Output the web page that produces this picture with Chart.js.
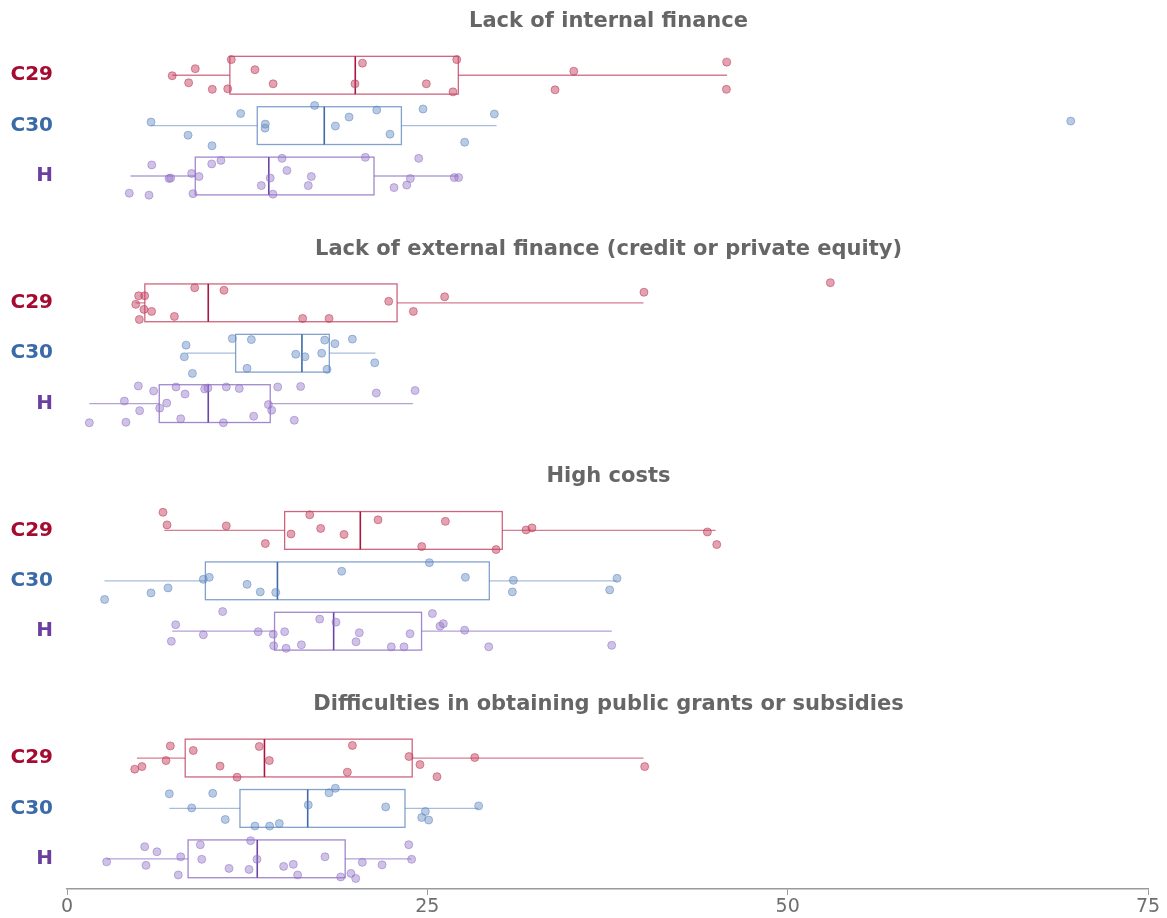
<!DOCTYPE html>
<html lang="en">
  <head>
    <meta charset="UTF-8" />
    <title>Barriers - box plots</title>
    <script src="https://cdn.jsdelivr.net/npm/chart.js"></script>
    <style>
      html, body { margin: 0; padding: 0; background: #fff; }
      .wrap { position: relative; width: 1167px; height: 918px; }
    </style>
  </head>
  <body>
    <div class="wrap"><canvas id="chart"></canvas></div>

    <script>
      // panels (top to bottom) and groups (rows inside each panel)
      const panels = [
        "Lack of internal finance",
        "Lack of external finance (credit or private equity)",
        "High costs",
        "Difficulties in obtaining public grants or subsidies",
      ];
      const groups = ["C29", "C30", "H"];
      const xTicks = [0, 25, 50, 75];

      // box stats per panel, per group [C29, C30, H]
      const q1 = [[11.3, 13.2, 8.9], [5.4, 11.7, 6.4], [15.1, 9.6, 14.4], [8.2, 12.0, 8.4]];
      const median = [[20.0, 17.85, 14.0], [9.8, 16.3, 9.8], [20.35, 14.6, 18.5], [13.7, 16.7, 13.2]];
      const q3 = [[27.15, 23.2, 21.3], [22.9, 18.2, 14.1], [30.2, 29.3, 24.6], [23.95, 23.45, 19.3]];
      const whiskerLo = [[7.3, 5.8, 4.4], [4.75, 8.3, 1.55], [6.75, 2.6, 7.3], [4.85, 7.1, 2.75]];
      const whiskerHi = [[45.8, 29.8, 27.15], [40.0, 21.4, 24.0], [45.0, 38.15, 37.8], [40.0, 28.55, 23.9]];

      // individual observations and their vertical jitter (fraction of a row)
      const internalValues = [
        [11.4, 8.9, 7.3, 8.44, 10.08, 11.15, 13.04, 14.3, 20.5, 19.98, 27.04, 24.93, 26.78, 35.16, 33.86, 45.77, 45.75],
        [5.83, 8.4, 10.06, 12.05, 13.76, 13.74, 17.18, 18.62, 19.57, 21.49, 22.41, 24.7, 29.65, 27.59, 69.64],
        [5.88, 7.08, 7.19, 4.32, 5.69, 8.65, 9.16, 8.74, 10.04, 10.68, 13.48, 14.1, 14.29, 14.92, 15.26, 16.95, 16.74, 20.7, 22.69, 23.57, 24.4, 23.82, 26.87, 27.17],
      ];
      const internalJitter = [
        [-0.31, -0.13, 0.01, 0.15, 0.28, 0.27, -0.11, 0.17, -0.24, 0.17, -0.31, 0.17, 0.33, -0.08, 0.29, -0.26, 0.28],
        [-0.07, 0.19, 0.4, -0.24, -0.03, 0.05, -0.4, 0.01, -0.17, -0.31, 0.17, -0.33, -0.23, 0.33, -0.09],
        [-0.22, 0.05, 0.04, 0.34, 0.38, -0.05, 0.01, 0.35, -0.24, -0.31, 0.19, 0.04, 0.36, -0.35, -0.11, 0.01, 0.19, -0.37, 0.23, 0.18, -0.35, 0.05, 0.03, 0.03],
      ];
      const externalValues = [
        [8.86, 10.89, 4.97, 5.39, 4.77, 5.34, 5.87, 5.02, 7.45, 16.35, 18.18, 22.32, 24.03, 26.2, 40.03, 52.96],
        [8.26, 8.14, 8.7, 11.47, 12.79, 12.49, 15.87, 16.51, 17.67, 17.88, 18.59, 18.04, 19.8, 21.35],
        [1.55, 4.09, 3.98, 4.95, 5.04, 6.01, 6.43, 6.92, 7.56, 8.19, 7.89, 9.55, 9.78, 10.85, 11.05, 11.95, 12.95, 13.97, 14.2, 14.62, 15.77, 16.21, 21.46, 24.15],
      ];
      const externalJitter = [
        [-0.3, -0.25, -0.14, -0.14, 0.03, 0.13, 0.17, 0.33, 0.27, 0.31, 0.31, -0.03, 0.17, -0.12, -0.21, -0.4],
        [-0.16, 0.07, 0.4, -0.29, -0.27, 0.3, 0.02, 0.07, 0, -0.26, -0.19, 0.32, -0.28, 0.19],
        [0.38, 0.37, -0.05, -0.35, 0.14, -0.25, 0.09, -0.01, -0.33, -0.19, 0.3, -0.29, -0.31, 0.38, -0.33, -0.3, 0.25, 0.02, 0.13, -0.33, 0.33, -0.34, -0.21, -0.26],
      ];
      const costsValues = [
        [6.66, 6.94, 11.05, 13.76, 15.54, 16.84, 17.6, 19.22, 21.58, 26.25, 24.61, 29.77, 31.85, 32.26, 44.43, 45.08],
        [2.61, 5.83, 7.01, 9.46, 9.87, 12.49, 13.41, 14.48, 19.06, 25.14, 27.64, 30.97, 30.9, 38.16, 37.65],
        [7.54, 7.24, 9.46, 10.8, 13.27, 14.31, 14.34, 15.1, 15.2, 16.26, 17.53, 18.66, 20.28, 20.05, 22.5, 23.38, 23.8, 25.35, 25.88, 26.11, 27.59, 29.26, 37.79],
      ];
      const costsJitter = [
        [-0.36, -0.11, -0.09, 0.26, 0.07, -0.31, -0.04, 0.08, -0.21, -0.18, 0.32, 0.38, -0.01, -0.05, 0.03, 0.28],
        [0.37, 0.24, 0.14, -0.03, -0.07, 0.07, 0.22, 0.23, -0.19, -0.36, -0.07, -0.01, 0.22, -0.05, 0.18],
        [-0.13, 0.2, 0.07, -0.39, 0.01, 0.06, 0.29, 0.01, 0.34, 0.27, -0.24, -0.18, 0.03, 0.21, 0.31, 0.31, 0.05, -0.35, -0.1, -0.15, -0.02, 0.31, 0.28],
      ];
      const grantsValues = [
        [4.7, 5.2, 6.87, 7.17, 8.76, 10.62, 11.8, 13.34, 14.04, 19.8, 19.45, 23.73, 24.49, 25.67, 28.29, 40.08],
        [7.1, 8.65, 10.11, 10.98, 13.04, 14.06, 14.73, 16.74, 18.18, 18.62, 22.11, 24.86, 24.61, 25.09, 28.56],
        [2.75, 5.39, 6.24, 5.48, 7.89, 7.72, 9.25, 9.35, 11.24, 12.63, 12.74, 13.18, 15.03, 15.7, 16.0, 17.9, 18.99, 19.7, 20.03, 20.49, 21.86, 23.71, 23.91],
      ];
      const grantsJitter = [
        [0.22, 0.17, 0.05, -0.24, -0.15, 0.16, 0.38, -0.23, 0.05, -0.25, 0.28, -0.03, 0.13, 0.37, -0.01, 0.17],
        [-0.29, -0.01, -0.3, 0.22, 0.35, 0.35, 0.3, -0.07, -0.31, -0.4, -0.03, 0.06, 0.18, 0.23, -0.05],
        [0.06, -0.24, -0.14, 0.13, -0.04, 0.32, -0.28, 0.01, 0.19, 0.21, -0.36, 0.01, 0.15, 0.11, 0.32, -0.04, 0.36, 0.29, 0.39, 0.07, 0.12, -0.28, 0.01],
      ];

      const allValues = [internalValues, externalValues, costsValues, grantsValues];
      const allJitter = [internalJitter, externalJitter, costsJitter, grantsJitter];

      // colours per group
      const labelColors = ["#a50a30", "#3b6aa8", "#6a3fa0"];
      const pointFill = ["rgba(198, 70, 100, 0.5)", "rgba(100, 140, 196, 0.45)", "rgba(150, 120, 200, 0.45)"];
      const pointLine = ["rgba(190, 60, 90, 0.55)", "rgba(90, 130, 190, 0.5)", "rgba(140, 110, 195, 0.5)"];
      const boxColors = ["rgba(190, 50, 85, 0.75)", "rgba(90, 130, 190, 0.75)", "rgba(130, 95, 190, 0.75)"];
      const whiskerColors = ["rgba(195, 70, 100, 0.7)", "rgba(110, 145, 195, 0.6)", "rgba(140, 110, 195, 0.65)"];
      const medianColors = ["#a8173f", "#3d6aa8", "#6a45a8"];

      const FONT = "'DejaVu Sans', sans-serif";

      // layout in y units: one unit per row
      const PANEL_STEP = 4.517;
      const BOX_HALF = 0.375;
      const rowPos = (p, g) => p * PANEL_STEP + g;

      const rowTicks = [];
      panels.forEach((_, p) => groups.forEach((_, g) => rowTicks.push(rowPos(p, g))));

      const datasets = [];
      panels.forEach((_, p) => {
        groups.forEach((name, g) => {
          datasets.push({
            label: name,
            data: allValues[p][g].map((v, i) => ({ x: v, y: rowPos(p, g) + allJitter[p][g][i] })),
            backgroundColor: pointFill[g],
            borderColor: pointLine[g],
            borderWidth: 1,
            pointRadius: 4,
          });
        });
      });

      // boxes, whiskers and medians drawn with the chart's scales
      const boxPlugin = {
        id: "boxes",
        beforeDatasetsDraw(chart) {
          const { ctx, scales } = chart;
          const x = scales.x, y = scales.y;
          ctx.save();
          panels.forEach((_, p) => {
            groups.forEach((_, g) => {
              const c = rowPos(p, g);
              const yc = y.getPixelForValue(c);
              const yt = y.getPixelForValue(c - BOX_HALF);
              const yb = y.getPixelForValue(c + BOX_HALF);
              const x1 = x.getPixelForValue(q1[p][g]);
              const x3 = x.getPixelForValue(q3[p][g]);
              const xm = x.getPixelForValue(median[p][g]);
              const xl = x.getPixelForValue(whiskerLo[p][g]);
              const xh = x.getPixelForValue(whiskerHi[p][g]);

              ctx.lineWidth = 1.3;
              ctx.strokeStyle = whiskerColors[g];
              ctx.beginPath();
              ctx.moveTo(xl, yc);
              ctx.lineTo(x1, yc);
              ctx.moveTo(x3, yc);
              ctx.lineTo(xh, yc);
              ctx.stroke();

              ctx.strokeStyle = boxColors[g];
              ctx.strokeRect(x1, yt, x3 - x1, yb - yt);

              ctx.strokeStyle = medianColors[g];
              ctx.lineWidth = 1.6;
              ctx.beginPath();
              ctx.moveTo(xm, yt);
              ctx.lineTo(xm, yb);
              ctx.stroke();
            });
          });
          ctx.restore();
        },
        afterDraw(chart) {
          const { ctx, chartArea, scales } = chart;
          ctx.save();
          ctx.fillStyle = "#666666";
          ctx.font = "bold 21px " + FONT;
          ctx.textAlign = "center";
          ctx.textBaseline = "middle";
          const cx = (chartArea.left + chartArea.right) / 2 + 1;
          panels.forEach((title, p) => {
            ctx.fillText(title, cx, scales.y.getPixelForValue(rowPos(p, 0) - 1.06));
          });
          ctx.restore();
        },
      };

      new Chart(document.getElementById("chart"), {
        type: "scatter",
        data: { datasets },
        options: {
          responsive: true,
          maintainAspectRatio: false,
          animation: false,
          layout: { padding: { top: 45, right: 19, bottom: 0, left: 0 } },
          plugins: { legend: { display: false }, tooltip: { enabled: false } },
          scales: {
            x: {
              type: "linear",
              min: 0,
              max: 75,
              afterBuildTicks: (scale) => { scale.ticks = xTicks.map((v) => ({ value: v })); },
              afterFit: (scale) => { scale.height = 29; },
              grid: { drawOnChartArea: false, drawTicks: true, tickLength: 6, color: "#9a9a9a" },
              border: { display: true, color: "#9a9a9a", width: 1.5 },
              ticks: { color: "#6e6e6e", font: { family: FONT, size: 19 }, padding: 1 },
            },
            y: {
              type: "linear",
              reverse: true,
              min: -0.6,
              max: 16.15,
              afterBuildTicks: (scale) => { scale.ticks = rowTicks.map((v) => ({ value: v })); },
              afterFit: (scale) => { scale.width = 67; },
              grid: { display: false },
              border: { display: false },
              ticks: {
                padding: 6,
                font: { family: FONT, size: 20, weight: "bold" },
                color: (ctx) => labelColors[ctx.index % 3],
                callback: (v, i) => groups[i % 3],
              },
            },
          },
        },
        plugins: [boxPlugin],
      });
    </script>
  </body>
</html>
